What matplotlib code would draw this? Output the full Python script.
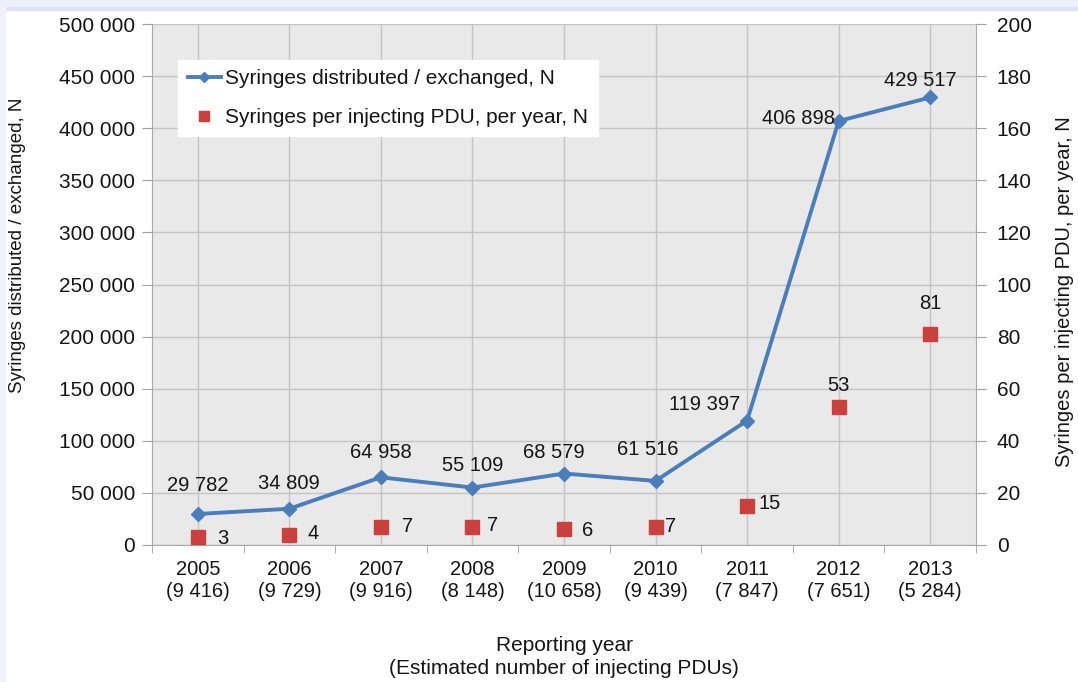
import matplotlib
matplotlib.use("Agg")
import matplotlib.pyplot as plt
from matplotlib.patches import Rectangle
from matplotlib.ticker import FuncFormatter, MultipleLocator

# === data
years = ["2005", "2006", "2007", "2008", "2009", "2010", "2011", "2012", "2013"]
pdus = ["9 416", "9 729", "9 916", "8 148", "10 658", "9 439", "7 847", "7 651", "5 284"]
syringes = [29782, 34809, 64958, 55109, 68579, 61516, 119397, 406898, 429517]
per_pdu = [3, 4, 7, 7, 6, 7, 15, 53, 81]

# label offsets in pixels (dx, dy)
syr_off = [(0, 28), (0, 25), (0, 25), (0, 22), (-10, 21), (-8, 31), (-42, 16), (-40, 3), (-10, 17)]
pdu_off = [(19, -1), (18, 1), (21, 0), (15, 1), (18, -1), (9, 0), (11, 2), (0, 21), (0, 30)]
pdu_ha = ["left"] * 7 + ["center"] * 2

BLUE = "#4a7ebb"
RED = "#c9403d"
GRID = "#c4c4c4"
TXT = "#151515"

plt.rcParams["font.family"] = ["Liberation Sans", "DejaVu Sans"]

fig = plt.figure(figsize=(10.78, 6.82), dpi=100)
fig.patches.append(Rectangle((0, 1 - 10 / 682), 1, 10 / 682, transform=fig.transFigure,
                             color="#eef0fb", zorder=0))
fig.patches.append(Rectangle((0, 1 - 10 / 682), 1, 3 / 682, transform=fig.transFigure,
                             color="#dfe3f4", zorder=0))
fig.patches.append(Rectangle((0, 0), 5 / 1078, 1, transform=fig.transFigure,
                             color="#eef0fb", zorder=0))

ax = fig.add_axes([152 / 1078, 1 - 545 / 682, (976 - 152) / 1078, (545 - 24) / 682])
ax.set_facecolor("#e9e9e9")
x = list(range(len(years)))

ax.plot(x, syringes, color=BLUE, lw=2.8, marker="D", ms=7, zorder=3,
        label="Syringes distributed / exchanged, N")
ax.set_ylim(0, 500000)
ax.set_xlim(-0.5, len(years) - 0.5)
ax.yaxis.set_major_locator(MultipleLocator(50000))
ax.yaxis.set_major_formatter(FuncFormatter(lambda v, p: f"{int(v):,}".replace(",", " ")))

ax.set_xticks(x)
ax.set_xticklabels([f"{y}\n({n})" for y, n in zip(years, pdus)], fontsize=14.5, color=TXT,
                   linespacing=1.2)
ax.set_xticks([i - 0.5 for i in range(len(years) + 1)], minor=True)
ax.tick_params(axis="x", which="major", length=0, pad=11)
ax.tick_params(axis="x", which="minor", length=6, color="#a0a0a0")
ax.tick_params(axis="y", length=7, color="#a0a0a0", labelsize=15, labelcolor=TXT, pad=5)
ax.grid(True, color=GRID, lw=1)
ax.set_axisbelow(True)
for s in ["top", "right"]:
    ax.spines[s].set_visible(False)
for s in ["left", "bottom"]:
    ax.spines[s].set_color("#a8a8a8")

ax2 = ax.twinx()
ax2.plot(x, per_pdu, ls="none", marker="s", ms=10, color=RED, zorder=3,
         label="Syringes per injecting PDU, per year, N")
ax2.set_ylim(0, 200)
ax2.yaxis.set_major_locator(MultipleLocator(20))
ax2.tick_params(axis="y", length=7, color="#a0a0a0", labelsize=15, labelcolor=TXT, pad=8)
for s in ["top", "left", "bottom"]:
    ax2.spines[s].set_visible(False)
ax2.spines["right"].set_color("#a8a8a8")

# data labels
for i, v in enumerate(syringes):
    ax.annotate(f"{v:,}".replace(",", " "), (i, v), xytext=(syr_off[i][0] * 0.72, syr_off[i][1] * 0.72),
                textcoords="offset points", ha="center", va="center", fontsize=14.5, color=TXT, zorder=5)
for i, v in enumerate(per_pdu):
    ax2.annotate(str(v), (i, v), xytext=(pdu_off[i][0] * 0.72, pdu_off[i][1] * 0.72),
                 textcoords="offset points", ha=pdu_ha[i], va="center", fontsize=14.5, color=TXT)

ax.set_ylabel("Syringes distributed / exchanged, N", fontsize=13.5, color=TXT,
              ha="center", va="center")
ax.yaxis.set_label_coords(-0.163, 0.576)
ax2.set_ylabel("Syringes per injecting PDU, per year, N", fontsize=14.5, color=TXT,
               ha="center", va="center")
ax2.yaxis.set_label_coords(1.108, 0.486)
ax.set_xlabel("Reporting year\n(Estimated number of injecting PDUs)", fontsize=15, color=TXT,
              labelpad=25, linespacing=1.25)

h1, l1 = ax.get_legend_handles_labels()
h2, l2 = ax2.get_legend_handles_labels()
leg = ax2.legend(h1 + h2, l1 + l2, loc="upper left", bbox_to_anchor=(0.032, 0.931), fontsize=15,
                 frameon=True, fancybox=False, edgecolor="white", framealpha=1, borderaxespad=0,
                 handlelength=1.6, handletextpad=0.2, borderpad=0.45, labelspacing=0.95,
                 markerscale=0.75)
for t in leg.get_texts():
    t.set_color(TXT)

fig.savefig("out.png", dpi=100)
